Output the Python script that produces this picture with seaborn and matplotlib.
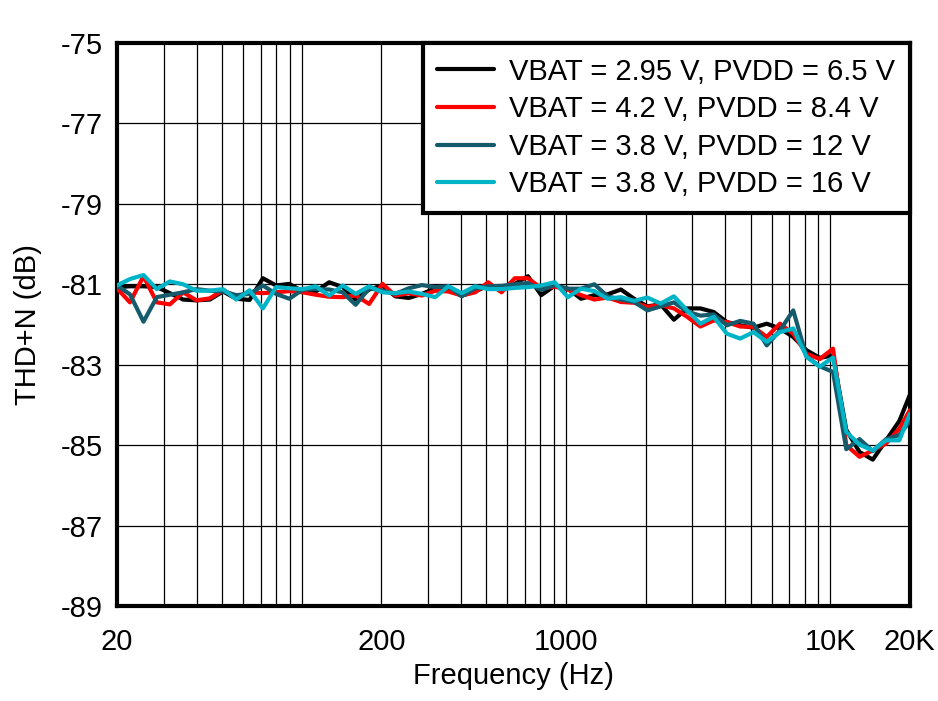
import matplotlib
matplotlib.use("Agg")
import matplotlib.pyplot as plt
from matplotlib.ticker import FixedLocator, NullFormatter
import seaborn as sns
import numpy as np
import pandas as pd

# sweep frequencies (Hz), about 1/6 octave steps
freq = [20, 22.4, 25.2, 28.3, 31.7, 35.6, 40, 44.9, 50.4, 56.6,
        63.5, 71.3, 80, 89.8, 101, 113, 127, 143, 160, 180,
        202, 226, 254, 285, 320, 359, 403, 453, 508, 570,
        640, 718, 806, 905, 1016, 1140, 1280, 1437, 1613, 1810,
        2032, 2281, 2560, 2874, 3225, 3620, 4064, 4561, 5120, 5747,
        6451, 7241, 8127, 9123, 10240, 11494, 12902, 14482, 16255, 18246,
        20000]

thdn_295_65 = [-81.07, -81.05, -81.05, -81.07, -81.22, -81.38, -81.40, -81.38, -81.18, -81.36,
               -81.39, -80.85, -81.03, -80.99, -81.18, -81.18, -80.95, -81.07, -81.38, -81.13,
               -81.03, -81.30, -81.34, -81.24, -81.10, -81.12, -81.28, -81.18, -81.03, -81.12,
               -80.99, -80.80, -81.27, -81.04, -81.11, -81.36, -81.27, -81.25, -81.13, -81.36,
               -81.55, -81.50, -81.88, -81.60, -81.60, -81.69, -81.94, -82.02, -82.08, -81.98,
               -82.10, -82.31, -82.64, -82.83, -82.77, -84.62, -85.17, -85.36, -84.88, -84.40,
               -83.75]

thdn_42_84 = [-81.10, -81.45, -80.80, -81.45, -81.50, -81.20, -81.40, -81.35, -81.15, -81.30,
              -81.20, -81.22, -81.20, -81.17, -81.20, -81.26, -81.31, -81.32, -81.28, -81.49,
              -80.99, -81.28, -81.22, -81.28, -81.16, -81.18, -81.28, -81.20, -80.95, -81.20,
              -80.85, -80.85, -81.10, -81.06, -81.13, -81.27, -81.38, -81.33, -81.44, -81.46,
              -81.56, -81.52, -81.60, -81.81, -82.05, -81.90, -81.94, -82.05, -82.06, -82.31,
              -81.98, -82.23, -82.73, -82.86, -82.60, -85.00, -85.29, -85.13, -84.96, -84.59,
              -84.13]

thdn_38_12 = [-81.03, -81.25, -81.93, -81.32, -81.26, -81.20, -81.12, -81.16, -81.18, -81.27,
              -81.24, -81.03, -81.24, -81.36, -81.13, -81.12, -81.13, -81.20, -81.51, -81.10,
              -81.16, -81.24, -81.10, -81.02, -81.07, -81.05, -81.30, -81.10, -81.05, -81.04,
              -81.00, -80.97, -81.14, -81.02, -81.11, -81.11, -81.00, -81.30, -81.38, -81.44,
              -81.65, -81.55, -81.45, -81.68, -81.78, -81.75, -82.02, -81.91, -81.98, -82.52,
              -82.15, -81.65, -82.80, -83.04, -83.18, -85.10, -84.85, -85.15, -84.85, -84.75,
              -84.40]

thdn_38_16 = [-81.03, -80.87, -80.77, -81.12, -80.93, -81.00, -81.16, -81.16, -81.12, -81.38,
              -81.15, -81.60, -81.07, -81.10, -81.12, -81.05, -81.28, -81.03, -81.24, -81.05,
              -81.20, -81.22, -81.18, -81.24, -81.32, -81.05, -81.22, -81.05, -81.12, -81.12,
              -81.09, -81.07, -81.03, -80.95, -81.32, -81.11, -81.17, -81.36, -81.32, -81.41,
              -81.33, -81.48, -81.30, -81.65, -81.98, -81.81, -82.23, -82.35, -82.19, -82.43,
              -82.19, -82.10, -82.80, -83.05, -82.82, -84.67, -84.99, -85.13, -84.88, -84.88,
              -84.22]

labels = ["VBAT = 2.95 V, PVDD = 6.5 V",
          "VBAT = 4.2 V, PVDD = 8.4 V",
          "VBAT = 3.8 V, PVDD = 12 V",
          "VBAT = 3.8 V, PVDD = 16 V"]
colors = ["#000000", "#FF0000", "#155B6C", "#00B4C8"]

xticks = [20, 200, 1000, 10000, 20000]
xticklabels = ["20", "200", "1000", "10K", "20K"]
yticks = [-89, -87, -85, -83, -81, -79, -77, -75]

series = [thdn_295_65, thdn_42_84, thdn_38_12, thdn_38_16]
df = pd.concat([pd.DataFrame({"freq": freq, "thdn": s, "cond": lab})
                for s, lab in zip(series, labels)], ignore_index=True)

sns.set_style("white")
plt.rcParams['font.family'] = ['Liberation Sans', 'DejaVu Sans']
plt.rcParams['axes.unicode_minus'] = False
for k in ('text.color', 'axes.labelcolor', 'xtick.color', 'ytick.color'):
    plt.rcParams[k] = 'black'

FS = 21
LW = 3.0

fig = plt.figure(figsize=(9.38, 7.01), dpi=100)
ax = fig.add_axes([0.1247, 0.1355, 0.8453, 0.8032])

sns.lineplot(data=df, x="freq", y="thdn", hue="cond", hue_order=labels,
             palette=dict(zip(labels, colors)), linewidth=LW, ax=ax,
             sort=False, estimator=None, zorder=3)

ax.set_xscale("log")
ax.set_xlim(20, 20000)
ax.set_ylim(-89, -75)
ax.xaxis.set_major_locator(FixedLocator(xticks))
ax.set_xticklabels(xticklabels)
minor = [m * 10 ** e for e in (1, 2, 3) for m in range(2, 10)] + [100]
minor = [v for v in minor if v not in xticks and 20 < v < 20000]
ax.xaxis.set_minor_locator(FixedLocator(minor))
ax.xaxis.set_minor_formatter(NullFormatter())
ax.set_yticks(yticks)

ax.grid(which="both", axis="x", color="black", linewidth=0.9)
ax.grid(which="major", axis="y", color="black", linewidth=0.9)
ax.tick_params(axis="both", which="both", length=0, labelsize=FS)
ax.tick_params(axis="x", pad=16)
ax.tick_params(axis="y", pad=10)

for sp in ax.spines.values():
    sp.set_linewidth(3)
    sp.set_color("black")

ax.set_xlabel("Frequency (Hz)", fontsize=FS, labelpad=4)
ax.set_ylabel("THD+N (dB)", fontsize=FS, labelpad=14)

handles, labs = ax.get_legend_handles_labels()
leg = ax.legend(handles, labs, loc="upper right", fontsize=FS, frameon=True,
                fancybox=False, framealpha=1, borderaxespad=0, borderpad=0.5,
                handlelength=1.95, handletextpad=0.52, labelspacing=0.33)
leg.get_frame().set_edgecolor("black")
leg.get_frame().set_linewidth(3)
leg.set_zorder(5)
for line in leg.get_lines():
    line.set_linewidth(LW)

fig.savefig("out.png", dpi=100)
